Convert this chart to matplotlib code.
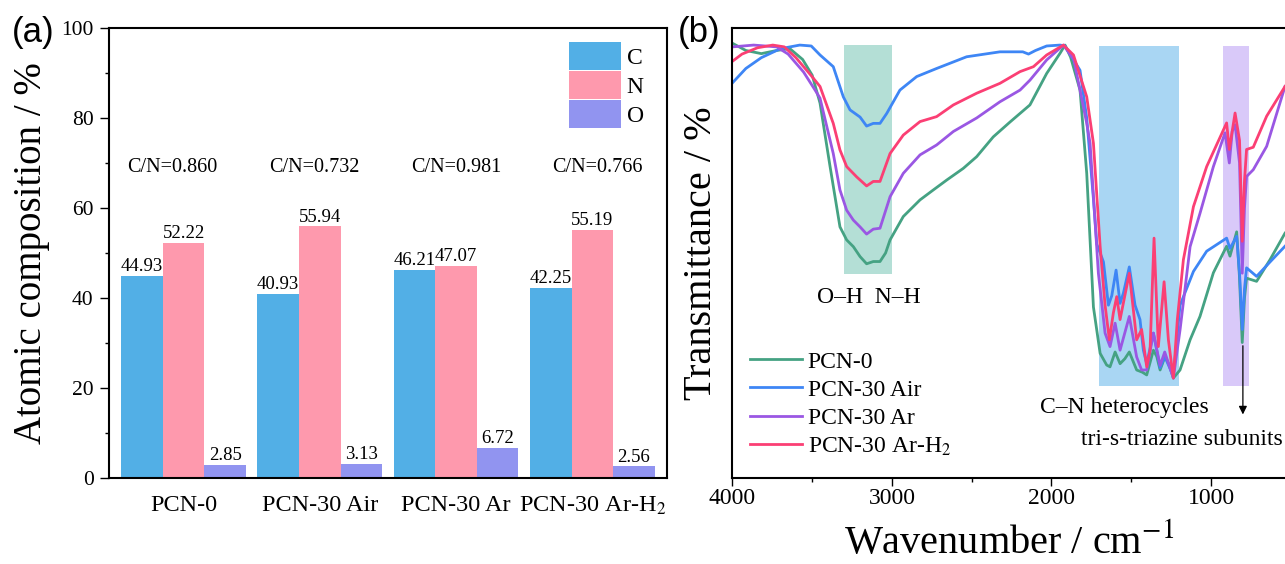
import numpy as np
from matplotlib import pyplot as plt
from matplotlib.ticker import MultipleLocator

plt.rcParams['font.family'] = ['Liberation Serif', 'DejaVu Serif']
plt.rcParams['mathtext.fontset'] = 'stix'

# ---- panel (a) data: XPS atomic composition ----
samples = ['PCN-0', 'PCN-30 Air', 'PCN-30 Ar', 'PCN-30 Ar-H$_2$']
carbon = [44.93, 40.93, 46.21, 42.25]
nitrogen = [52.22, 55.94, 47.07, 55.19]
oxygen = [2.85, 3.13, 6.72, 2.56]
cn_ratio = ['0.860', '0.732', '0.981', '0.766']

# ---- panel (b) data: FTIR spectra (wavenumber, transmittance) ----
wn_pcn0 = [4000, 3916, 3819, 3723, 3640, 3560, 3500, 3451, 3388, 3326, 3284, 3242, 3200, 3159,
           3117, 3075, 3040, 3012, 2929, 2824, 2741, 2657, 2553, 2469, 2365, 2260, 2135, 2030,
           1946, 1915, 1880, 1821, 1779, 1737, 1695, 1654, 1633, 1601, 1570, 1540, 1512, 1466,
           1430, 1403, 1361, 1340, 1319, 1288, 1260, 1236, 1194, 1131, 1069, 985, 902, 881,
           839, 822, 804, 790, 777, 714, 630, 536]
tr_pcn0 = [96.6, 95.0, 94.3, 95.0, 95.4, 93.0, 89.5, 83.3, 69.2, 55.8, 52.9, 51.4, 49.2, 47.6,
           48.1, 48.1, 50.0, 52.9, 58.1, 61.8, 64.0, 66.2, 68.8, 71.4, 75.8, 79.1, 82.9, 89.9,
           94.4, 96.2, 93.5, 86.2, 67.7, 38.0, 27.7, 25.1, 24.7, 28.0, 25.4, 26.5, 28.0, 24.0,
           23.5, 22.9, 28.4, 27.0, 24.0, 27.0, 25.0, 22.2, 24.0, 30.7, 35.9, 45.6, 51.5, 49.3,
           54.7, 45.0, 30.1, 40.0, 44.4, 43.7, 48.5, 54.4]

wn_air = [4000, 3916, 3819, 3699, 3578, 3506, 3451, 3368, 3305, 3263, 3200, 3159, 3117, 3075,
          3033, 2950, 2845, 2720, 2532, 2323, 2180, 2144, 2100, 2030, 1946, 1915, 1821, 1779,
          1737, 1716, 1674, 1643, 1622, 1595, 1570, 1549, 1512, 1476, 1445, 1424, 1403, 1361,
          1319, 1290, 1236, 1194, 1110, 1027, 902, 881, 839, 820, 804, 790, 777, 714, 630, 536]
tr_air = [87.8, 91.0, 93.4, 95.4, 96.2, 96.0, 94.0, 91.4, 84.7, 81.8, 80.2, 78.2, 78.8, 78.8,
          81.0, 86.2, 89.2, 91.0, 93.6, 94.7, 94.7, 94.2, 95.0, 96.0, 96.2, 96.0, 90.6, 80.0,
          62.0, 52.0, 48.0, 38.4, 40.5, 46.2, 38.8, 41.1, 46.9, 38.4, 35.2, 28.4, 25.4, 32.2,
          24.5, 27.0, 22.6, 38.4, 45.9, 50.4, 53.3, 51.0, 53.7, 45.0, 33.0, 42.0, 46.7, 44.8,
          48.0, 51.5]

wn_ar = [4000, 3867, 3723, 3651, 3554, 3482, 3451, 3368, 3326, 3284, 3242, 3200, 3159, 3117,
         3075, 3012, 2929, 2824, 2720, 2615, 2469, 2323, 2197, 2135, 2030, 1925, 1860, 1779,
         1758, 1706, 1664, 1633, 1601, 1570, 1512, 1466, 1435, 1403, 1361, 1319, 1290, 1236,
         1194, 1131, 1069, 985, 912, 885, 867, 849, 821, 804, 790, 777, 735, 651, 536]
tr_ar = [95.8, 96.2, 95.8, 94.2, 90.2, 86.2, 84.4, 72.1, 64.0, 59.5, 57.3, 55.8, 54.2, 55.3,
         55.5, 62.5, 67.7, 71.8, 74.0, 77.0, 80.0, 83.6, 86.2, 88.4, 92.9, 96.2, 93.0, 78.8,
         74.4, 45.5, 32.2, 29.2, 34.4, 28.4, 35.9, 26.9, 24.0, 24.0, 32.2, 25.0, 28.0, 22.2,
         32.9, 51.4, 58.8, 69.2, 76.7, 70.0, 77.0, 78.5, 70.0, 45.5, 60.0, 67.0, 68.5, 73.7, 87.0]

wn_arh2 = [4000, 3940, 3843, 3747, 3675, 3602, 3506, 3451, 3368, 3326, 3284, 3221, 3159, 3117,
           3075, 3012, 2929, 2824, 2720, 2615, 2469, 2323, 2197, 2113, 2030, 1925, 1862, 1779,
           1737, 1695, 1664, 1637, 1612, 1591, 1570, 1512, 1466, 1435, 1403, 1382, 1357, 1330,
           1294, 1267, 1236, 1211, 1173, 1110, 1027, 902, 885, 849, 821, 804, 790, 777, 735,
           651, 536]
tr_arh2 = [92.6, 94.2, 95.6, 96.2, 95.8, 93.4, 89.4, 87.0, 78.8, 72.9, 69.2, 66.9, 64.9, 65.9,
           65.9, 72.1, 76.2, 79.2, 80.3, 82.9, 85.5, 87.7, 90.3, 91.4, 94.0, 96.2, 94.0, 84.7,
           74.4, 51.5, 38.4, 30.7, 36.7, 40.3, 35.2, 45.5, 30.7, 33.0, 24.7, 28.4, 53.3, 29.2,
           43.6, 30.7, 22.2, 35.2, 48.5, 60.3, 69.2, 78.9, 73.0, 81.1, 75.0, 52.6, 66.0, 73.0,
           73.5, 80.4, 87.0]

fig = plt.figure(figsize=(12.85, 5.64), dpi=100)

# ================= (a) =================
axa = fig.add_axes([0.0848, 0.1525, 0.4342, 0.7979])
x = np.arange(len(samples))
w = 0.305
b1 = axa.bar(x - w, carbon, w, color='#52AFE6', label='C')
b2 = axa.bar(x, nitrogen, w, color='#FE99AD', label='N')
b3 = axa.bar(x + w, oxygen, w, color='#9194F0', label='O')
for bars in (b1, b2, b3):
    axa.bar_label(bars, fmt='%.2f', padding=0.5, fontsize=13.5)
for i, r in enumerate(cn_ratio):
    axa.text(2 + (i - 2) * 1.04, 69, 'C/N=' + r, ha='center', va='center', fontsize=14.5)

axa.set_xlim(-0.547, 3.547)
axa.set_ylim(0, 100)
axa.set_xticks(x)
axa.set_xticklabels(samples, fontsize=17.5)
axa.tick_params(axis='x', length=0, pad=12)
axa.yaxis.set_major_locator(MultipleLocator(20))
axa.yaxis.set_minor_locator(MultipleLocator(10))
axa.tick_params(axis='y', which='major', direction='out', length=6.5, width=1, labelsize=15.5, pad=4.5)
axa.tick_params(axis='y', which='minor', direction='out', length=3.2, width=1)
for s in axa.spines.values():
    s.set_linewidth(1.5)
axa.set_ylabel('Atomic composition / %', fontsize=28)
axa.yaxis.set_label_coords(-0.105, 0.5)
axa.legend(loc='upper right', bbox_to_anchor=(0.9588, 0.969), frameon=False, fontsize=17,
           handlelength=2.2, handleheight=1.42, handletextpad=0.25, labelspacing=0.07,
           borderpad=0, borderaxespad=0)

# ================= (b) =================
axb = fig.add_axes([0.5700, 0.1525, 0.4300, 0.7979])
axb.axvspan(3300, 3000, ymin=0.453, ymax=0.963, color='#B4DFD6', lw=0, zorder=0)
axb.axvspan(1700, 1200, ymin=0.204, ymax=0.96, color='#A9D6F3', lw=0, zorder=0)
axb.axvspan(925, 760, ymin=0.204, ymax=0.96, color='#D9C9F9', lw=0, zorder=0)

axb.plot(wn_pcn0, tr_pcn0, color='#45A283', lw=2, label='PCN-0')
axb.plot(wn_air, tr_air, color='#3E86F5', lw=2, label='PCN-30 Air')
axb.plot(wn_ar, tr_ar, color='#9A57E3', lw=2, label='PCN-30 Ar')
axb.plot(wn_arh2, tr_arh2, color='#FB3F74', lw=2, label='PCN-30 Ar-H$_2$')

axb.text(3144, 40, 'O\u2013H  N\u2013H', ha='center', va='center', fontsize=17)
axb.text(1542, 15.6, 'C\u2013N heterocycles', ha='center', va='center', fontsize=17)
axb.text(549, 8.6, 'tri-s-triazine subunits', ha='right', va='center', fontsize=17)
axb.annotate('', xy=(800, 13.5), xytext=(800, 30),
             arrowprops=dict(arrowstyle='-|>', color='black', lw=0.9, mutation_scale=12))

axb.set_xlim(4000, 536)
axb.set_ylim(0, 100)
axb.set_yticks([])
axb.xaxis.set_major_locator(MultipleLocator(1000))
axb.xaxis.set_minor_locator(MultipleLocator(500))
axb.tick_params(axis='x', which='major', direction='out', length=5.5, width=1, labelsize=17, pad=2)
axb.tick_params(axis='x', which='minor', direction='out', length=3.2, width=1)
axb.spines['right'].set_visible(False)
for s in axb.spines.values():
    s.set_linewidth(1.5)
axb.set_ylabel('Transmittance / %', fontsize=29)
axb.yaxis.set_label_coords(-0.023, 0.5)
axb.set_xlabel('Wavenumber / cm$^{-1}$', fontsize=29, va='baseline')
axb.xaxis.set_label_coords(0.5, -0.166)
axb.legend(loc='upper left', bbox_to_anchor=(0.0317, 0.282), frameon=False, fontsize=17,
           handlelength=2.2, handletextpad=0.25, labelspacing=0.28, borderpad=0, borderaxespad=0)

fig.text(0.0093, 0.943, '(a)', fontsize=25, family='Liberation Sans', ha='left', va='center')
fig.text(0.5276, 0.943, '(b)', fontsize=25, family='Liberation Sans', ha='left', va='center')

fig.savefig('out.png', dpi=100)
